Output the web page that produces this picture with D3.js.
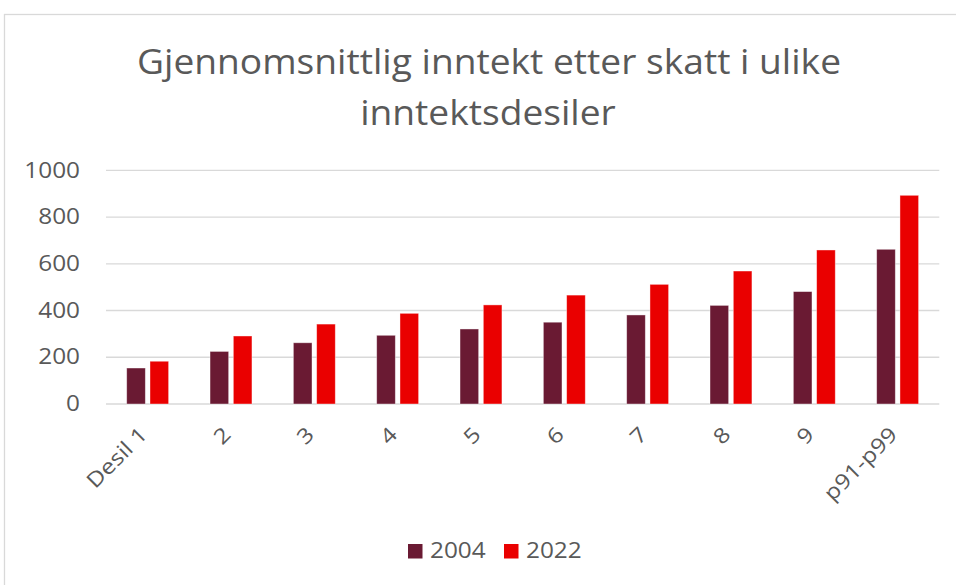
<!DOCTYPE html>
<html>
<head>
<meta charset="utf-8">
<script src="https://cdnjs.cloudflare.com/ajax/libs/d3/7.8.5/d3.min.js"></script>
<style>
  body { margin: 0; background: #fff; }
  text { font-family: "Open Sans", sans-serif; fill: #595959; }
</style>
</head>
<body>
<div id="chart"></div>
<script>
// data
var desiler = ["Desil 1", "2", "3", "4", "5", "6", "7", "8", "9", "p91-p99"];
var serier = ["2004", "2022"];
var verdi2004 = [154, 225, 262, 294, 321, 350, 381, 422, 481, 662];
var verdi2022 = [183, 291, 342, 388, 424, 466, 512, 569, 659, 893];
var yTicks = [0, 200, 400, 600, 800, 1000];
var farger = ["#6a1a33", "#ea0000"];

var W = 956, H = 585;
var margin = { top: 170.3, left: 106, right: 956 - 939.3, bottom: 585 - 404 };
var width = W - margin.left - margin.right,
    height = H - margin.top - margin.bottom;

// the original text is a bit wider than Open Sans, stretch it horizontally
var stretch = function(sel, k) {
  sel.each(function() {
    var len = this.getComputedTextLength();
    d3.select(this)
      .attr("textLength", len * k)
      .attr("lengthAdjust", "spacingAndGlyphs");
  });
};

var svg = d3.select("#chart").append("svg")
    .attr("width", W)
    .attr("height", H);

// chart frame
svg.append("rect")
    .attr("x", 4.5).attr("y", 14.5)
    .attr("width", W + 20).attr("height", H + 20)
    .attr("fill", "none")
    .attr("stroke", "#d9d9d9")
    .attr("stroke-width", 1.3);

// title
var t1 = svg.append("text")
    .attr("x", 489).attr("y", 74)
    .attr("text-anchor", "middle")
    .style("font-size", "34px")
    .text("Gjennomsnittlig inntekt etter skatt i ulike");
var t2 = svg.append("text")
    .attr("x", 488).attr("y", 125)
    .attr("text-anchor", "middle")
    .style("font-size", "34px")
    .text("inntektsdesiler");
var kTitle = 704 / t1.node().getComputedTextLength();
stretch(t1, kTitle);
stretch(t2, kTitle);

var g = svg.append("g")
    .attr("transform", "translate(" + margin.left + "," + margin.top + ")");

var x0 = d3.scaleBand()
    .domain(desiler)
    .range([0, width]);

var x1 = d3.scaleBand()
    .domain(serier)
    .range([20.7, x0.bandwidth() - 20.7])
    .paddingInner(0.2);

var y = d3.scaleLinear()
    .domain([0, 1000])
    .range([height, 0]);

// gridlines
g.selectAll(".grid")
    .data(yTicks)
    .enter().append("line")
    .attr("class", "grid")
    .attr("x1", 0).attr("x2", width)
    .attr("y1", function(d) { return y(d); })
    .attr("y2", function(d) { return y(d); })
    .attr("stroke", "#d9d9d9")
    .attr("stroke-width", 1.3);

// y axis
var yAxis = d3.axisLeft(y)
    .tickValues(yTicks)
    .tickFormat(d3.format("d"))
    .tickSize(0)
    .tickPadding(26);
var yAx = g.append("g").call(yAxis);
yAx.select(".domain").remove();
yAx.selectAll("text")
    .style("font-size", "21px")
    .attr("fill", "#595959")
    .call(stretch, 1.16);

// x axis labels, rotated
var xAx = g.append("g")
    .attr("transform", "translate(0," + height + ")");
xAx.selectAll("text")
    .data(desiler)
    .enter().append("text")
    .attr("text-anchor", "end")
    .style("font-size", "21px")
    .attr("transform", function(d) {
      return "translate(" + (x0(d) + x0.bandwidth() / 2 + 1) + ",32) rotate(-45)";
    })
    .text(function(d) { return d; })
    .call(stretch, 1.16);

// bars
var rows = desiler.map(function(d, i) {
  return { desil: d, values: [verdi2004[i], verdi2022[i]] };
});

var groups = g.selectAll(".grp")
    .data(rows)
    .enter().append("g")
    .attr("class", "grp")
    .attr("transform", function(d) { return "translate(" + x0(d.desil) + ",0)"; });

groups.selectAll("rect")
    .data(function(d) { return d.values.map(function(v, i) { return { s: serier[i], v: v, i: i }; }); })
    .enter().append("rect")
    .attr("x", function(d) { return x1(d.s); })
    .attr("width", x1.bandwidth())
    .attr("y", function(d) { return y(d.v); })
    .attr("height", function(d) { return height - y(d.v); })
    .attr("fill", function(d) { return farger[d.i]; })
    .attr("stroke", "#ffffff")
    .attr("stroke-opacity", 0.5)
    .attr("stroke-width", 0.8);

// legend
var legend = svg.append("g");
var legX = [408, 504];
serier.forEach(function(s, i) {
  legend.append("rect")
      .attr("x", legX[i]).attr("y", 544)
      .attr("width", 14.5).attr("height", 14.5)
      .attr("fill", farger[i]);
  legend.append("text")
      .attr("x", legX[i] + 22).attr("y", 558)
      .style("font-size", "21px")
      .text(s)
      .call(stretch, 1.16);
});
</script>
</body>
</html>
